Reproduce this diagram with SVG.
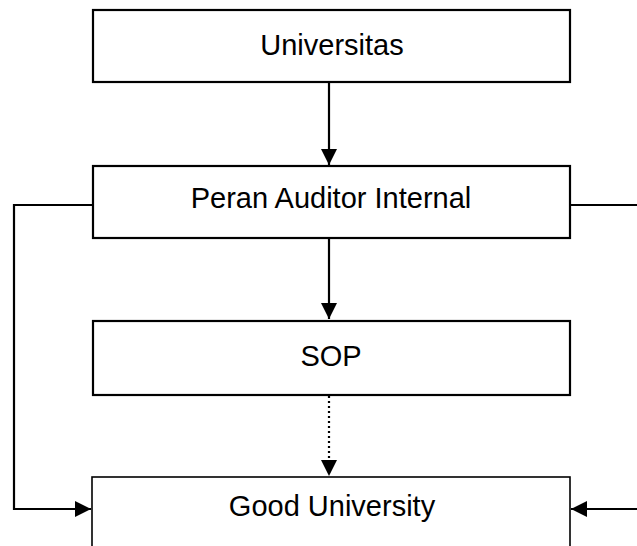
<svg xmlns="http://www.w3.org/2000/svg" width="637" height="546" viewBox="0 0 637 546">
<style>
.box{fill:#fff;stroke:#000;stroke-width:2.2}
.thin{stroke-width:1.6}
.lbl{font-family:"Liberation Sans",Arial,sans-serif;font-size:29px;fill:#000;text-anchor:middle}
.con{fill:none;stroke:#000;stroke-width:2.2}
.dot{stroke-dasharray:2 3}
</style>
<defs>
<marker id="ah" markerUnits="userSpaceOnUse" markerWidth="16" markerHeight="16" viewBox="0 0 16 16" refX="16" refY="8" orient="auto">
<path d="M0,0 L16,8 L0,16 Z" fill="#000"/>
</marker>
</defs>
<g id="connectors">
<path class="con" d="M329,83 V165" marker-end="url(#ah)"/>
<path class="con" d="M329,239 V319" marker-end="url(#ah)"/>
<path class="con dot" d="M329,396 V476" marker-end="url(#ah)"/>
<path class="con" d="M92,205 H14 V509 H91" marker-end="url(#ah)"/>
<path class="con" d="M570,205 H660 V509 H571" marker-end="url(#ah)"/>
</g>
<g id="universitas">
<rect class="box" x="93" y="10" width="477" height="72"/>
<text class="lbl" x="332" y="55">Universitas</text>
</g>
<g id="peran">
<rect class="box" x="93" y="166" width="477" height="72"/>
<text class="lbl" x="331" y="208">Peran Auditor Internal</text>
</g>
<g id="sop">
<rect class="box" x="93" y="321" width="477" height="74"/>
<text class="lbl" x="331" y="366">SOP</text>
</g>
<g id="good">
<rect class="box thin" x="92" y="477" width="478" height="90"/>
<text class="lbl" x="332" y="516">Good University</text>
</g>
</svg>
